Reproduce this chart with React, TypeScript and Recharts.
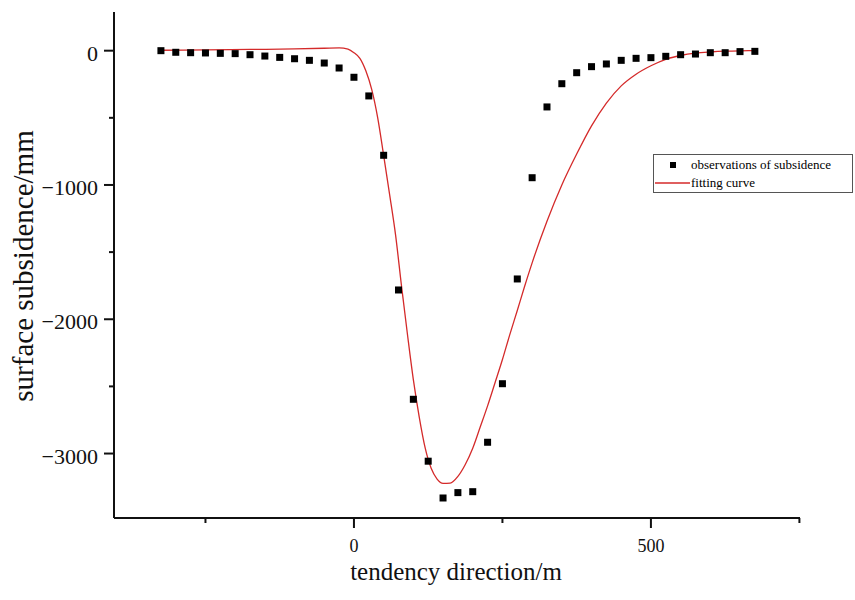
import React from 'react';
import { ComposedChart, Line, Scatter, XAxis, YAxis } from 'recharts';

// observed subsidence, every 25 m along the tendency direction
const obsX = [
    -325, -300, -275, -250, -225, -200, -175, -150, -125, -100, -75, -50, -25,
    0, 25, 50, 75, 100, 125, 150, 175, 200, 225, 250, 275, 300, 325, 350, 375,
    400, 425, 450, 475, 500, 525, 550, 575, 600, 625, 650, 675,
];
const obsY = [
    0, -12, -15, -17, -20, -22, -30, -40, -50, -60, -72, -92, -129,
    -198, -337, -779, -1782, -2596, -3057, -3331, -3291, -3284, -2916, -2480, -1700, -946, -419, -246, -164,
    -119, -99, -72, -57, -52, -42, -30, -25, -15, -15, -7, -5,
];

// fitted curve
const fitX = [
    -325, -250, -175, -100, -50, -25, -10, 0, 10, 20, 30, 40, 50, 60, 70, 80, 90,
    100, 110, 120, 130, 140, 150, 162, 175, 187, 200, 212, 225, 237, 250, 262, 275, 287, 300,
    325, 350, 375, 400, 425, 450, 475, 500, 525, 550, 575, 600, 625, 650, 675,
];
const fitY = [
    3, 6, 9, 13, 18, 21, 12, -15, -57, -150, -290, -500, -780, -1070, -1370, -1750, -2110,
    -2450, -2730, -2960, -3110, -3190, -3222, -3220, -3170, -3085, -2960, -2810, -2645, -2480, -2300, -2120, -1935, -1760, -1580,
    -1270, -1000, -770, -560, -390, -262, -175, -112, -64, -36, -19, -10, -4, -1, 0,
];

const xTicks = [-250, 0, 250, 500, 750];
const yTicks = [-3000, -2500, -2000, -1500, -1000, -500, 0];

const obsData = obsX.map((x, i) => ({ x, y: obsY[i] }));
const fitData = fitX.map((x, i) => ({ x, y: fitY[i] }));

const FONT = '"Liberation Serif", "Times New Roman", serif';
const RED = '#d42a2a';
const INK = '#111';

const XTick = (props: any) => {
    const { x, y, payload } = props;
    const major = payload.value % 500 === 0;
    return (
        <g>
            <line x1={x} x2={x} y1={y} y2={y + (major ? 10 : 5)} stroke={INK} strokeWidth={2} />
            {major && (
                <text x={x} y={y + 34} textAnchor="middle" fontFamily={FONT} fontSize={18} fill={INK}>
                    {payload.value}
                </text>
            )}
        </g>
    );
};

const YTick = (props: any) => {
    const { x, y, payload } = props;
    const major = payload.value % 1000 === 0;
    const label = String(payload.value).replace('-', '\u2212');
    return (
        <g>
            <line x1={x} x2={x - (major ? 10 : 5)} y1={y} y2={y} stroke={INK} strokeWidth={2} />
            {major && (
                <text x={x - 16} y={y + 10} textAnchor="end" fontFamily={FONT} fontSize={22} fill={INK}>
                    {label}
                </text>
            )}
        </g>
    );
};

const XTitle = () => (
    <text x={456} y={580} textAnchor="middle" fontFamily={FONT} fontSize={25} fill={INK}>
        tendency direction/m
    </text>
);

const YTitle = () => (
    <text
        x={0}
        y={0}
        transform="translate(33, 266) rotate(-90)"
        textAnchor="middle"
        fontFamily={FONT}
        fontSize={29}
        fill={INK}
    >
        surface subsidence/mm
    </text>
);

const SquareDot = (props: any) => {
    const { cx, cy } = props;
    return <rect x={cx - 3.5} y={cy - 3.5} width={7} height={7} fill="#000" />;
};

const LegendBox = () => (
    <div
        style={{
            position: 'absolute',
            left: 653,
            top: 154,
            width: 198,
            height: 37,
            border: '1px solid #555',
            background: '#fff',
            fontFamily: FONT,
            fontSize: 13,
            color: INK,
        }}
    >
        <svg width={198} height={37} style={{ display: 'block' }}>
            <rect x={16} y={7} width={6} height={6} fill="#000" />
            <text x={37} y={14}>observations of subsidence</text>
            <line x1={1} x2={36} y1={28} y2={28} stroke={RED} strokeWidth={1.3} />
            <text x={37} y={32}>fitting curve</text>
        </svg>
    </div>
);

export default function App() {
    return (
        <div style={{ position: 'absolute', left: 0, top: 0, width: 855, height: 600, background: '#fff' }}>
            <ComposedChart width={855} height={600} margin={{ top: 12, right: 55, bottom: 0, left: 0 }}>
                <XAxis
                    dataKey="x"
                    type="number"
                    domain={[-404, 751]}
                    allowDataOverflow
                    ticks={xTicks}
                    interval={0}
                    tick={<XTick />}
                    tickLine={false}
                    tickSize={0}
                    tickMargin={0}
                    height={82}
                    axisLine={{ stroke: INK, strokeWidth: 2 }}
                    label={<XTitle />}
                />
                <YAxis
                    dataKey="y"
                    type="number"
                    domain={[-3480, 288]}
                    allowDataOverflow
                    ticks={yTicks}
                    interval={0}
                    tick={<YTick />}
                    tickLine={false}
                    tickSize={0}
                    tickMargin={0}
                    width={114}
                    axisLine={{ stroke: INK, strokeWidth: 2 }}
                    label={<YTitle />}
                />
                <Line
                    data={fitData}
                    dataKey="y"
                    type="monotone"
                    stroke={RED}
                    strokeWidth={1.3}
                    dot={false}
                    isAnimationActive={false}
                />
                <Scatter data={obsData} dataKey="y" shape={<SquareDot />} isAnimationActive={false} />
            </ComposedChart>
            <LegendBox />
        </div>
    );
}
